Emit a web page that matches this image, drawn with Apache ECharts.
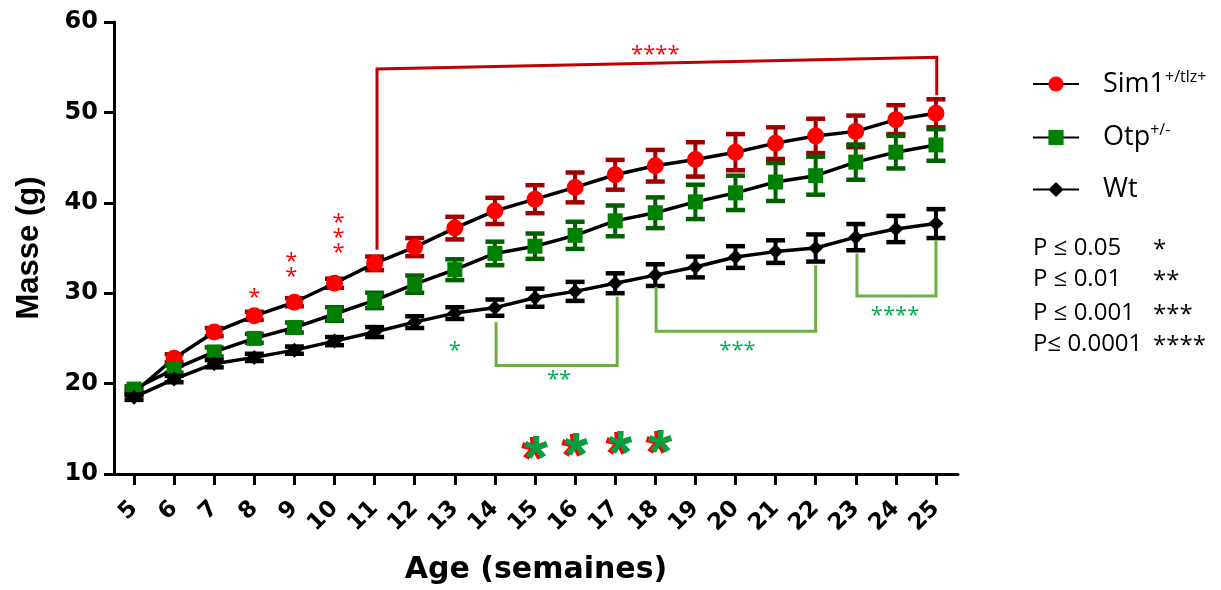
<!DOCTYPE html>
<html><head><meta charset="utf-8">
<script src="https://cdn.jsdelivr.net/npm/echarts@6/dist/echarts.min.js"></script>
<style>html,body{margin:0;padding:0;background:#fff}#c{width:1221px;height:590px}</style>
</head><body><div id="c"></div>
<script>
// ---- data ----
const weeks = [5,6,7,8,9,10,11,12,13,14,15,16,17,18,19,20,21,22,23,24,25];
const sim1Mean = [19.0,22.8,25.7,27.5,29.0,31.1,33.3,35.1,37.2,39.1,40.4,41.7,43.1,44.1,44.8,45.6,46.6,47.4,47.9,49.2,49.9];
const sim1Sem  = [0.3,0.45,0.45,0.45,0.45,0.5,0.75,1.0,1.25,1.45,1.55,1.65,1.65,1.75,1.9,2.0,1.75,1.9,1.75,1.6,1.55];
const otpMean  = [19.4,21.6,23.5,25.0,26.2,27.7,29.2,31.0,32.6,34.4,35.2,36.4,38.0,38.9,40.1,41.1,42.3,43.0,44.5,45.6,46.4];
const otpSem   = [0.3,0.4,0.5,0.5,0.55,0.75,0.85,0.95,1.15,1.3,1.4,1.5,1.7,1.7,1.9,1.9,2.1,2.1,1.95,1.8,1.75];
const wtMean   = [18.5,20.5,22.2,22.9,23.7,24.7,25.7,26.8,27.8,28.4,29.5,30.2,31.1,32.0,32.9,34.0,34.6,35.0,36.2,37.1,37.7];
const wtSem    = [0.3,0.35,0.4,0.4,0.4,0.45,0.55,0.65,0.65,0.9,1.0,1.05,1.1,1.2,1.15,1.2,1.25,1.5,1.45,1.45,1.6];
const seriesNames = ['Sim1+/tlz+','Otp+/-','Wt'];
const yTicks = [10,20,30,40,50,60];

// significance brackets (data coordinates)
const redBracket = [[11.06,34.8],[11.06,54.8],[25.02,56.1],[25.02,51.9]];
const greenBrackets = [
  [[14.03,26.8],[14.03,22.0],[17.05,22.0],[17.05,29.6]],
  [[18.02,30.7],[18.02,25.8],[22.0,25.8],[22.0,33.1]],
  [[23.03,34.4],[23.03,29.7],[25.0,29.7],[25.0,35.9]]
];
// significance stars: [x, y, text]
const redStars = [[8.0,30.0,'*'],[8.92,33.2,'*\n*'],[10.1,36.7,'*\n*\n*'],[18.0,56.9,'****']];
const greenStars = [[13.0,24.2,'*'],[15.6,21.0,'**'],[20.05,24.2,'***'],[23.98,28.1,'****']];
const bigStars = [[15.0,12.9],[16.0,13.2],[17.1,13.4],[18.1,13.5]];
const pLabels = ['P \u2264 0.05','P \u2264 0.01','P \u2264 0.001','P\u2264 0.0001'];
const pStars = ['*','**','***','****'];

// ---- chart ----
const chart = echarts.init(document.getElementById('c'), null, {renderer:'canvas'});

function errSeries(mean, sem, color, z) {
  return {
    type:'custom', z:z, silent:true, legendHoverLink:false,
    encode:{x:0,y:1},
    data: weeks.map((w,i)=>[w, mean[i], sem[i]]),
    renderItem:function(params, api){
      const x=api.value(0), m=api.value(1), e=api.value(2);
      const t=api.coord([x,m+e]), b=api.coord([x,m-e]);
      const cw=19;
      const st={stroke:color,lineWidth:4.5};
      return {type:'group',children:[
        {type:'line',shape:{x1:t[0],y1:t[1],x2:b[0],y2:b[1]},style:{stroke:color,lineWidth:4}},
        {type:'line',shape:{x1:t[0]-cw/2,y1:t[1],x2:t[0]+cw/2,y2:t[1]},style:st},
        {type:'line',shape:{x1:b[0]-cw/2,y1:b[1],x2:b[0]+cw/2,y2:b[1]},style:st}
      ]};
    }
  };
}
function lineSeries(name, mean, color, symbol, size, z) {
  return {
    name:name, type:'line', z:z, data: weeks.map((w,i)=>[w, mean[i]]),
    symbol:symbol, symbolSize:size, showAllSymbol:true,
    itemStyle:{color:color, opacity:1},
    lineStyle:{color:'#000', width:3.5},
    emphasis:{disabled:true}, animation:false
  };
}

const annotSeries = {
  type:'custom', z:20, silent:true,
  encode:{x:0,y:1},
  data:[[5,20]],
  renderItem:function(params, api){
    const children=[];
    const pts = redBracket.map(p=>api.coord(p));
    children.push({type:'polyline',shape:{points:pts},style:{stroke:'#c00000',lineWidth:3,fill:null}});
    greenBrackets.forEach(br=>{
      children.push({type:'polyline',shape:{points:br.map(p=>api.coord(p))},style:{stroke:'#70ad47',lineWidth:3,fill:null}});
    });
    redStars.forEach(s=>{
      const c=api.coord([s[0],s[1]]);
      children.push({type:'text',x:c[0],y:c[1]+5,style:{text:s[2],fill:'#ff0000',fontSize:22,fontFamily:'Open Sans',lineHeight:15,align:'center',verticalAlign:'middle'}});
    });
    greenStars.forEach(s=>{
      const c=api.coord([s[0],s[1]]);
      children.push({type:'text',x:c[0],y:c[1]+5,style:{text:s[2],fill:'#00b050',fontSize:22,fontFamily:'Open Sans',lineHeight:15,align:'center',verticalAlign:'middle'}});
    });
    bigStars.forEach(s=>{
      const c=api.coord([s[0],s[1]]);
      children.push({type:'text',x:c[0]-2,y:c[1]+14,style:{text:'*',fill:'#ff0000',fontSize:62,fontWeight:'bold',fontFamily:'Liberation Sans',align:'center',verticalAlign:'middle'}});
      children.push({type:'text',x:c[0]+1,y:c[1]+13,style:{text:'*',fill:'#00a040',fontSize:62,fontWeight:'bold',fontFamily:'Liberation Sans',align:'center',verticalAlign:'middle'}});
    });
    return {type:'group',children:children};
  }
};

const pGraphics = [];
const pY = [252,283,317,348];
pLabels.forEach((t,i)=>{
  pGraphics.push({type:'text',left:1033,top:pY[i]-16,style:{text:t,fill:'#000',font:'24px "Open Sans"'}});
  pGraphics.push({type:'text',left:1153,top:pY[i]-14,style:{text:pStars[i],fill:'#000',font:'24px "Open Sans"'}});
});

const option = {
  animation:false,
  backgroundColor:'#fff',
  grid:{left:114, right:263, top:22, bottom:116, containLabel:false, outerBoundsMode:'none'},
  xAxis:{
    type:'value', min:4.5, max:25.55,
    name:'Age (semaines)', nameLocation:'middle', nameGap:81,
    nameTextStyle:{fontSize:30, fontWeight:'bold', fontFamily:'DejaVu Sans', color:'#000'},
    axisLine:{show:true, onZero:false, lineStyle:{color:'#000', width:3}},
    axisTick:{show:true, length:11, lineStyle:{color:'#000', width:3}, customValues:weeks},
    axisLabel:{customValues:weeks, rotate:45, margin:31, fontSize:23, fontWeight:'bold', fontFamily:'DejaVu Sans', color:'#000'},
    splitLine:{show:false}
  },
  yAxis:{
    type:'value', min:10, max:60, interval:10,
    name:'Masse (g)', nameLocation:'middle', nameGap:69, nameRotate:90,
    nameTextStyle:{fontSize:31, fontWeight:'bold', fontFamily:'Liberation Sans', color:'#000'},
    axisLine:{show:true, onZero:false, lineStyle:{color:'#000', width:3}},
    axisTick:{show:true, length:10, lineStyle:{color:'#000', width:3}},
    axisLabel:{margin:16, fontSize:24, fontWeight:'bold', fontFamily:'DejaVu Sans', color:'#000',
      formatter:v=>yTicks.indexOf(v)>=0?String(v):''},
    splitLine:{show:false}
  },
  legend:{
    orient:'vertical', left:1032, top:69, padding:0, itemGap:25,
    itemWidth:46, itemHeight:19, selectedMode:false,
    data:seriesNames,
    formatter:function(n){
      if(n==='Sim1+/tlz+') return '{n|Sim1}{s|+/tlz+}';
      if(n==='Otp+/-') return '{n|Otp}{s|+/-}';
      return '{n|Wt}';
    },
    textStyle:{padding:[0,0,0,19], rich:{
      n:{fontSize:27, fontFamily:'Open Sans', color:'#000', lineHeight:30},
      s:{fontSize:16, fontFamily:'Open Sans', color:'#000', verticalAlign:'top', lineHeight:18}
    }}
  },
  graphic:pGraphics,
  series:[
    errSeries(sim1Mean, sim1Sem, '#a00000', 2),
    lineSeries(seriesNames[0], sim1Mean, '#ff0000', 'circle', 17, 3),
    errSeries(otpMean, otpSem, '#006000', 4),
    lineSeries(seriesNames[1], otpMean, '#008000', 'rect', 15, 5),
    errSeries(wtMean, wtSem, '#000000', 6),
    lineSeries(seriesNames[2], wtMean, '#000000', 'diamond', 15, 7),
    annotSeries
  ]
};
chart.setOption(option);
</script></body></html>
